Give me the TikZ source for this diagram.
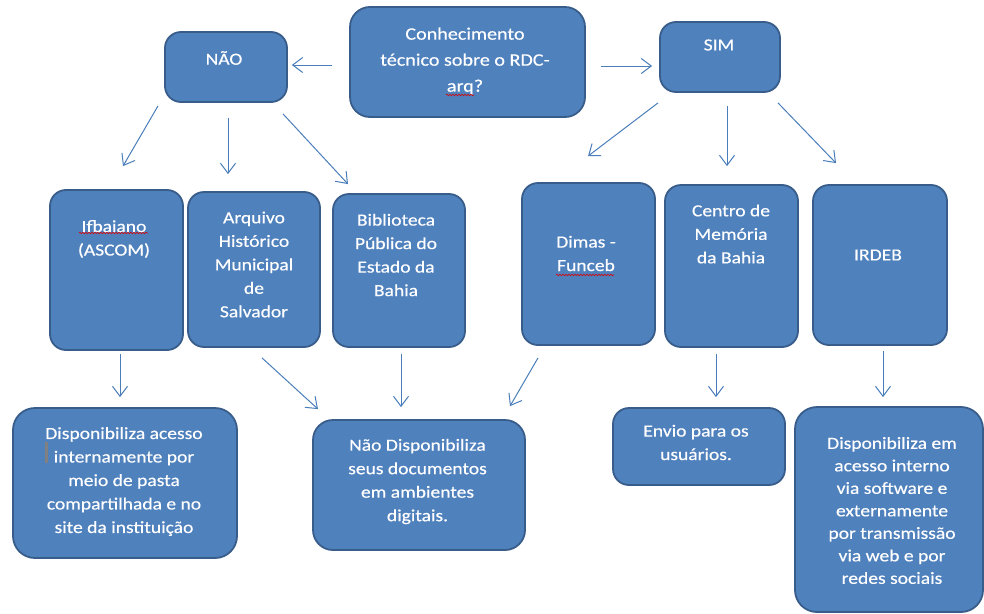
\documentclass[tikz,border=0pt]{standalone}
\usepackage{fontspec}
\setmainfont[FakeStretch=1.15,FakeBold=0.4]{Carlito}
\usetikzlibrary{arrows.meta,calc,decorations.pathmorphing}
\definecolor{boxfill}{HTML}{4F81BD}
\definecolor{boxline}{HTML}{385D8A}
\definecolor{arrowc}{HTML}{4A7EBB}
\begin{document}
\begin{tikzpicture}[x=1pt,y=-1pt,
  box/.style={draw=boxline, line width=1.8pt, fill=boxfill, rounded corners=16pt, inner sep=0pt},
  txt/.style={text=white, align=center, font=\fontsize{17}{23.5}\selectfont, inner sep=0pt},
  arr/.style={draw=arrowc, line width=1pt, -{Straight Barb[length=10pt,width=15pt]}},
  wave/.style={draw=red!85!black, line width=0.6pt, decorate, decoration={snake, amplitude=0.8pt, segment length=3pt}}]
\useasboundingbox[fill=white] (0,0) rectangle (984,613);

% boxes
\node[box, minimum width=235pt, minimum height=110pt, rounded corners=20pt] (q) at (467.5,62) {};
\node[box, minimum width=122pt, minimum height=70pt] (nao) at (226,67) {};
\node[box, minimum width=120pt, minimum height=70pt] (sim) at (720,57) {};
\node[box, minimum width=133pt, minimum height=160pt] (ifb) at (116.5,270) {};
\node[box, minimum width=132pt, minimum height=155pt] (arq) at (254,269.5) {};
\node[box, minimum width=132pt, minimum height=153pt] (bib) at (399,270.5) {};
\node[box, minimum width=133pt, minimum height=162pt] (dim) at (588.5,264) {};
\node[box, minimum width=133pt, minimum height=162pt] (cen) at (731.5,266) {};
\node[box, minimum width=134pt, minimum height=160pt] (ird) at (880,265) {};
\node[box, minimum width=224pt, minimum height=150pt, rounded corners=22pt] (d1) at (125,483) {};
\node[box, minimum width=212pt, minimum height=130pt, rounded corners=20pt] (d2) at (419,485) {};
\node[box, minimum width=172pt, minimum height=77pt] (env) at (699,446.5) {};
\node[box, minimum width=188pt, minimum height=205pt, rounded corners=22pt] (d3) at (889,509.5) {};

% texts
\node[txt, font=\fontsize{17.5}{26}\selectfont] (qt) at (465,61) {Conhecimento\\técnico sobre o RDC-\\arq?};
\node[txt] (naot) at (224,58) {NÃO};
\node[txt] (simt) at (719,45) {SIM};
\node[txt] (ifbt) at (114,239) {Ifbaiano\\(ASCOM)};
\node[txt] (arqt) at (254,264.5) {Arquivo\\Histórico\\Municipal\\de\\Salvador};
\node[txt] (bibt) at (396,255) {Biblioteca\\Pública do\\Estado da\\Bahia};
\node[txt] (dimt) at (586,253.5) {Dimas -\\Funceb};
\node[txt] (cent) at (731,234) {Centro de\\Memória\\da Bahia};
\node[txt] (irdt) at (878,255) {IRDEB};
\node[txt] (d1t) at (124,481.5) {Disponibiliza acesso\\internamente por\\meio de pasta\\compartilhada e no\\site da instituição};
\node[txt] (d2t) at (417.5,481.5) {Não Disponibiliza\\seus documentos\\em ambientes\\digitais.};
\node[txt] (envt) at (696,442.5) {Envio para os\\usuários.};
\node[txt, font=\fontsize{17}{22.5}\selectfont] (d3t) at (892,510.5) {Disponibiliza em\\acesso interno\\via software e\\externamente\\por transmissão\\via web e por\\redes sociais};

% spell-check marks and cursor
\draw[wave] (446,95) -- (474,95);
\draw[wave] (79,233) -- (148,233);
\draw[wave] (556,275) -- (614,275);
\fill[gray] (45,442) rectangle (47.5,463);

% connectors
\draw[arr] ($(q.west)+(-17,3)$) -- ($(nao.east)+(4,-2)$);
\draw[arr] ($(q.east)+(15,4)$) -- ($(sim.west)+(-7,9)$);
\draw[arr] ($(nao.south)+(-68,3)$) -- ($(ifb.north)+(6.5,-23)$);
\draw[arr] ($(nao.south)+(2,15)$) -- ($(arq.north)+(-26,-17)$);
\draw[arr] ($(nao.south)+(57,11)$) -- ($(bib.north)+(-51,-9)$);
\draw[arr] ($(sim.south)+(-62,10)$) -- ($(dim.north)+(-0.5,-26)$);
\draw[arr] ($(sim.south)+(7,13)$) -- ($(cen.north)+(-4.5,-18)$);
\draw[arr] ($(sim.south)+(58,10)$) -- ($(ird.north)+(-44,-21)$);
\draw[arr] ($(ifb.south)+(3.5,3)$) -- ($(d1.north)+(-5,-10)$);
\draw[arr] ($(arq.south)+(8,10)$) -- ($(d2.north)+(-101,-10)$);
\draw[arr] ($(bib.south)+(2,6)$) -- ($(d2.north)+(-18,-12)$);
\draw[arr] ($(dim.south)+(-50.5,12)$) -- ($(d2.north)+(91,-13)$);
\draw[arr] ($(cen.south)+(-15.5,6)$) -- ($(env.north)+(17,-10)$);
\draw[arr] ($(ird.south)+(3,5)$) -- ($(d3.north)+(-6,-9)$);
\end{tikzpicture}
\end{document}
